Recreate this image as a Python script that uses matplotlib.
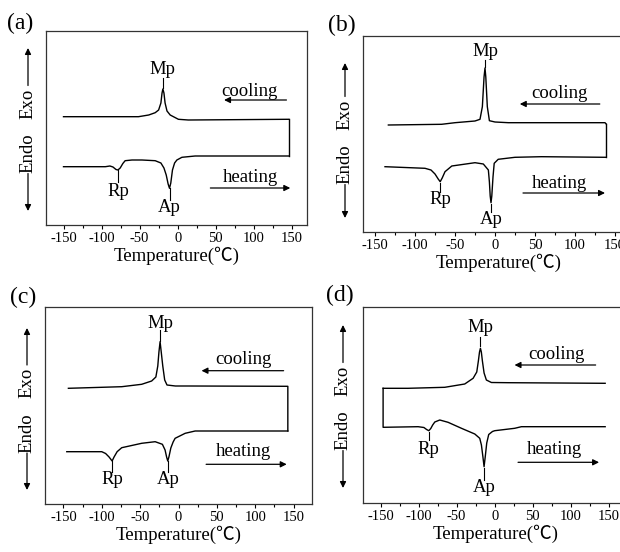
import matplotlib
matplotlib.use("Agg")
import matplotlib.pyplot as plt
from matplotlib.ticker import MultipleLocator

plt.rcParams['font.family'] = ['Liberation Serif', 'Noto Sans CJK SC', 'DejaVu Serif']
plt.rcParams['axes.unicode_minus'] = False

W, H = 620, 552

######## data (temperature in C, heat flow in arbitrary units) ########

# (a)
a_heat_x = [-150, -95, -89, -85, -81, -78.5, -75.5, -72, -69, -60, -47, -29.5, -22, -18, -15, -12.5, -10.7,
            -9, -6.8, -4, -1, 5.6, 23, 146]
a_heat_y = [58.3, 58.3, 59, 58, 55.5, 55, 57, 61.5, 64.3, 65, 65, 64.3, 62, 57, 50, 41, 36.7,
            42, 55, 62, 65, 67.7, 69, 69]
a_cool_x = [146, 143.5, 14, 1, -9.8, -14, -16.5, -18, -19.4, -20.5, -22, -25, -29.5, -38, -51.5, -150]
a_cool_y = [105.7, 105.7, 105, 105.7, 110, 114, 122, 132, 136, 132, 122, 115, 112.3, 110, 108.3, 108.3]

# (b)
b_heat_x = [-137.5, -87.5, -80, -75, -71, -68.5, -66, -62.5, -54, -25, -14.6, -8.3, -7, -6, -5, -4, -2.5,
            -1, 4, 25, 58, 139]
b_heat_y = [65.3, 63.7, 62, 58, 53, 50.3, 54, 60.3, 66, 69.3, 68, 62, 50, 36, 29.3, 36, 55,
            68.7, 72.7, 74.7, 75.3, 74.7]
b_cool_x = [139, 137.5, 16.7, 0, -7, -9.6, -11.5, -12.5, -13.7, -15.8, -18.75, -25, -50, -66.7, -133.3]
b_cool_y = [108, 109.3, 109.3, 110, 111.3, 125.3, 155, 164, 155, 125.3, 112.7, 111, 109.3, 107.7, 107]

# (c)
c_heat_x = [-145.6, -100, -95, -90.5, -86.5, -84, -80, -74, -48, -30.4, -21, -17.5, -15.5, -14, -12.5, -10,
            -7, -4.4, 8.7, 21.7, 142.5]
c_heat_y = [52.3, 52.3, 50.5, 47, 43, 47, 52.3, 56.3, 60.7, 62.3, 59.7, 54, 47, 43, 47, 56,
            62, 65.7, 70.7, 73, 73]
c_cool_x = [142.5, 142.5, 13, -4, -15, -18, -20.5, -22.5, -24, -25.5, -27, -29.5, -35, -48, -74, -143.5]
c_cool_y = [73, 117.7, 118, 118, 119, 124, 138, 152, 162.3, 152, 138, 127, 123, 119.7, 117.3, 115.7]

# (d)
d_cool_x = [145, 17.5, -4.4, -11, -14, -16.2, -17.6, -18.8, -20, -21.5, -23.6, -28.4, -39.4, -65.6, -113.8,
            -146.6]
d_cool_y = [119.7, 120.3, 120.5, 123, 130, 142, 151, 154.7, 151, 142, 131, 124.7, 119, 115.7, 114.7,
            114.7]
d_heat_x = [-146.6, -146.6, -100.6, -93, -89.5, -86.6, -84, -81.5, -78.7, -72.2, -61.3, -43.7, -26.2,
            -19.7, -17.5, -15.5, -14, -12.5, -10.5, -7.9, -3, 0, 26.2, 35, 145]
d_heat_y = [114.7, 75.7, 76.3, 75.5, 73.5, 72.3, 74.5, 78, 81, 83, 80.7, 74.7, 69,
            64.7, 58, 46, 36.3, 46, 60, 68.5, 71.5, 72.3, 74.7, 76.3, 76.3]

# peak labels: (name, x, text y, line top, line bottom)
a_peaks = [("Mp", -19.4, 155, 147, 137), ("Rp", -78, 33, 55, 43), ("Ap", -10.5, 17, 37, 25)]
b_peaks = [("Mp", -12.5, 180, 172, 165), ("Rp", -68.5, 33, 49, 40), ("Ap", -5, 12, 28, 20)]
c_peaks = [("Mp", -24, 181, 174, 163), ("Rp", -86.5, 24, 43, 32), ("Ap", -14, 24, 43, 32)]
d_peaks = [("Mp", -18.8, 176, 166, 157), ("Rp", -86.6, 54, 71, 63), ("Ap", -14, 15, 35, 23)]

# cooling / heating text (x, y) and arrow (tail x, tip x, y)
a_cool_txt, a_cool_arr = (95, 134), (143, 61, 125)
a_heat_txt, a_heat_arr = (96, 47), (43, 148, 37)
b_cool_txt, b_cool_arr = (81, 139), (131, 31, 128)
b_heat_txt, b_heat_arr = (81, 49), (35, 137.5, 39)
c_cool_txt, c_cool_arr = (85, 144), (137, 30, 133.3)
c_heat_txt, c_heat_arr = (85, 52.3), (36, 141, 39.7)
d_cool_txt, d_cool_arr = (81, 148.7), (132.5, 26, 138)
d_heat_txt, d_heat_arr = (79, 53), (30.6, 137, 40.7)

######## layout (pixels) ########
fig = plt.figure(figsize=(W / 100, H / 100), dpi=100)


def px_axes(left, top, width, height):
    return fig.add_axes([left / W, 1 - (top + height) / H, width / W, height / H])


def endo_exo(x, top, bottom):
    mid = (top + bottom) / 2
    tr = fig.transFigure
    fig.text(x / W, 1 - (mid - 26) / H, "Exo", rotation=90, ha='center', va='center', fontsize=13.5)
    fig.text(x / W, 1 - (mid + 24) / H, "Endo", rotation=90, ha='center', va='center', fontsize=13.5)
    ap = dict(arrowstyle='-|>', lw=0.9, color='k', mutation_scale=9, shrinkA=0, shrinkB=0)
    fig.add_artist(matplotlib.patches.FancyArrowPatch((x / W, 1 - (mid - 44) / H), (x / W, 1 - top / H),
                                                      transform=tr, **ap))
    fig.add_artist(matplotlib.patches.FancyArrowPatch((x / W, 1 - (mid + 44) / H), (x / W, 1 - bottom / H),
                                                      transform=tr, **ap))


def panel(ax, xlim, ylim, curves, peaks, cool_txt, cool_arr, heat_txt, heat_arr):
    for xs, ys in curves:
        ax.plot(xs, ys, color='k', lw=1.0)
    for name, x, ty, l1, l2 in peaks:
        ax.plot([x, x], [l1, l2], color='k', lw=0.8)
        ax.text(x, ty, name, ha='center', va='center', fontsize=13.5)
    ax.text(cool_txt[0], cool_txt[1], "cooling", ha='center', va='center', fontsize=13.5)
    ax.text(heat_txt[0], heat_txt[1], "heating", ha='center', va='center', fontsize=13.5)
    for tail, tip, y in (cool_arr, heat_arr):
        ax.annotate("", xy=(tip, y), xytext=(tail, y),
                    arrowprops=dict(arrowstyle='-|>', lw=0.9, color='k', mutation_scale=9,
                                    shrinkA=0, shrinkB=0))
    ax.set_xlim(*xlim)
    ax.set_ylim(*ylim)
    ax.set_yticks([])
    ax.xaxis.set_major_locator(MultipleLocator(50))
    ax.xaxis.set_minor_locator(MultipleLocator(25))
    ax.tick_params(axis='x', which='major', direction='out', length=3, width=0.8, labelsize=10.5, pad=2)
    ax.tick_params(axis='x', which='minor', direction='out', length=2, width=0.8)
    for s in ax.spines.values():
        s.set_linewidth(0.9)
        s.set_color('#333333')
    ax.set_xlabel("Temperature(℃)", fontsize=13.5, labelpad=1)


ax_a = px_axes(46, 31, 261, 194)
panel(ax_a, (-173, 170), (0, 194),
      [(a_heat_x, a_heat_y), (a_cool_x, a_cool_y), ([146, 146], [69, 105.7])],
      a_peaks, a_cool_txt, a_cool_arr, a_heat_txt, a_heat_arr)

ax_b = px_axes(363, 36, 272, 196)
panel(ax_b, (-165, 175), (0, 196),
      [(b_heat_x, b_heat_y), (b_cool_x, b_cool_y), ([139, 139], [74.7, 108])],
      b_peaks, b_cool_txt, b_cool_arr, b_heat_txt, b_heat_arr)

ax_c = px_axes(45, 307, 267, 197)
panel(ax_c, (-174, 174), (0, 197),
      [(c_heat_x, c_heat_y), (c_cool_x, c_cool_y)],
      c_peaks, c_cool_txt, c_cool_arr, c_heat_txt, c_heat_arr)

ax_d = px_axes(363, 307, 265, 196)
panel(ax_d, (-173, 175), (0, 196),
      [(d_cool_x, d_cool_y), (d_heat_x, d_heat_y)],
      d_peaks, d_cool_txt, d_cool_arr, d_heat_txt, d_heat_arr)

endo_exo(28, 48, 211)
endo_exo(345, 63, 218)
endo_exo(27, 328, 490)
endo_exo(343, 325, 488)

fig.text(20 / W, 1 - 23 / H, "(a)", ha='center', va='center', fontsize=17)
fig.text(342 / W, 1 - 25 / H, "(b)", ha='center', va='center', fontsize=17)
fig.text(23 / W, 1 - 297 / H, "(c)", ha='center', va='center', fontsize=17)
fig.text(340 / W, 1 - 295 / H, "(d)", ha='center', va='center', fontsize=17)

fig.savefig("out.png", dpi=100)
